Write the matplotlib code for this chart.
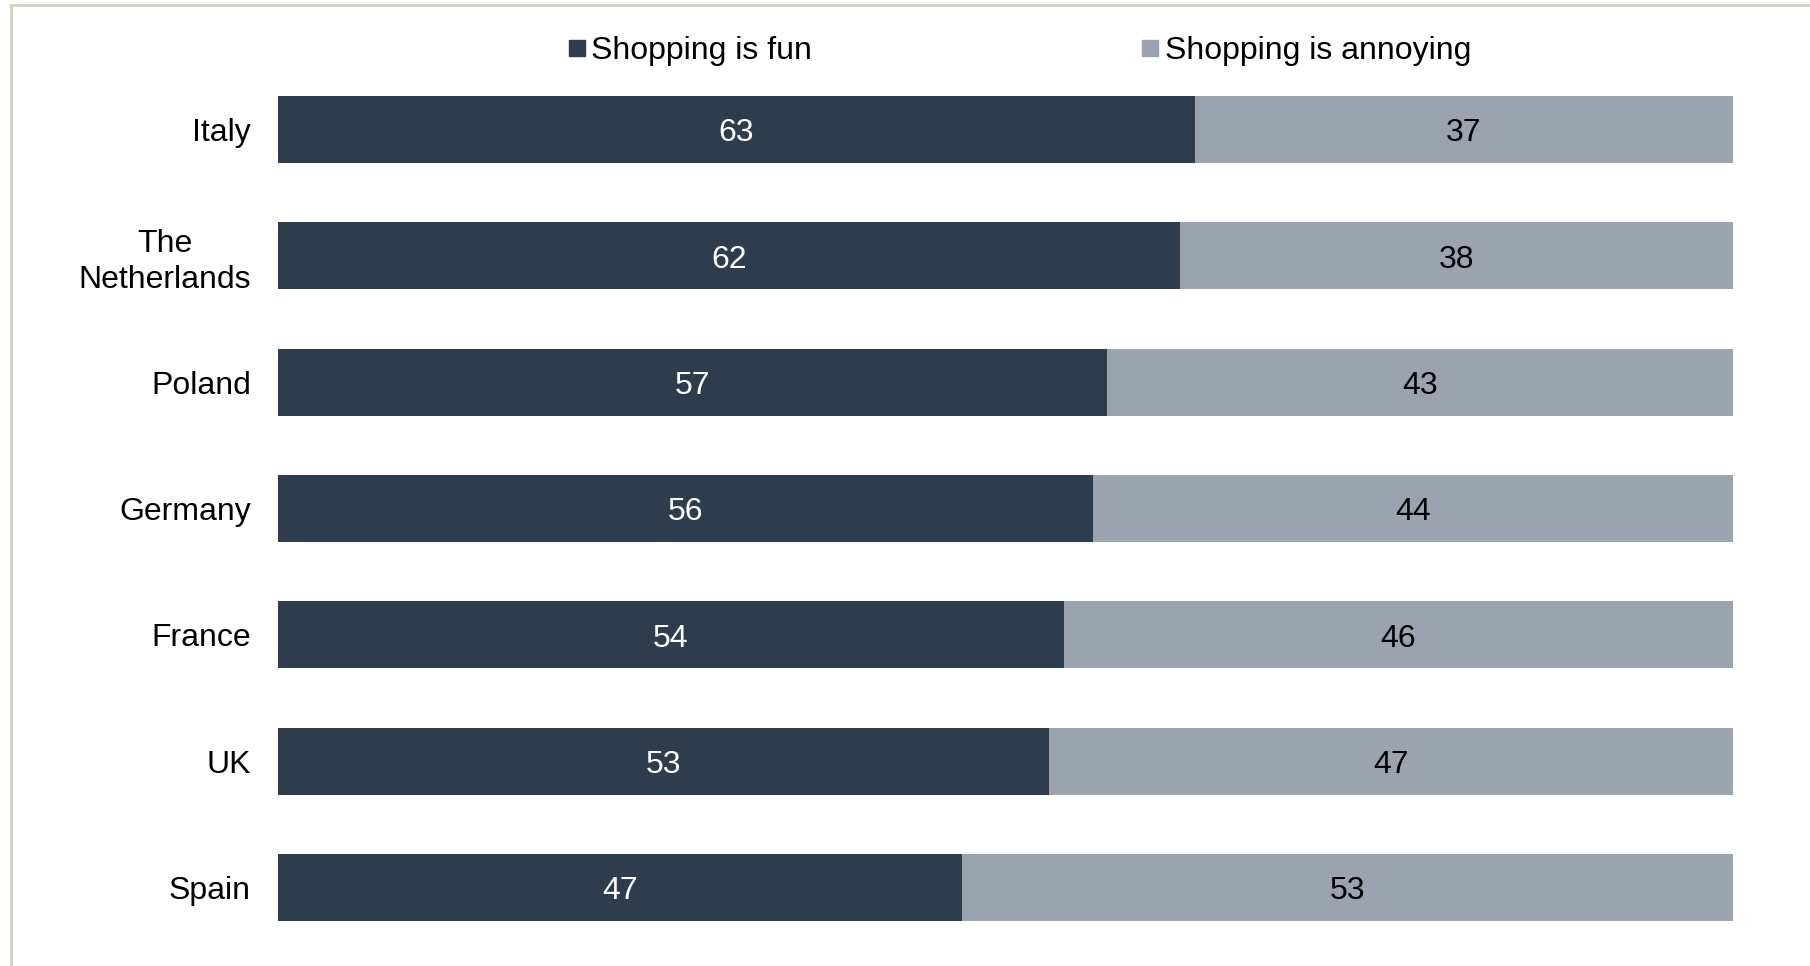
import matplotlib.pyplot as plt
from matplotlib.lines import Line2D

plt.rcParams['font.family'] = ['Liberation Sans', 'DejaVu Sans']

countries = ["Italy", "The\nNetherlands", "Poland", "Germany", "France", "UK", "Spain"]
fun = [63, 62, 57, 56, 54, 53, 47]
annoying = [37, 38, 43, 44, 46, 47, 53]

dark = "#2e3d4d"
light = "#9ba4ae"

fig = plt.figure(figsize=(18.1, 9.66), dpi=100)
ax = fig.add_axes([0.1536, 0.0159, 0.8039, 0.9154])

y = range(len(countries))
ax.barh(y, fun, height=0.53, color=dark)
ax.barh(y, annoying, left=fun, height=0.53, color=light)

# value labels centred in each segment
for i in y:
    ax.text(fun[i] / 2, i + 0.03, str(fun[i]), ha="center", va="center",
            color="white", fontsize=23)
    ax.text(fun[i] + annoying[i] / 2, i + 0.03, str(annoying[i]), ha="center",
            va="center", color="black", fontsize=23)

ax.set_xlim(0, 100)
ax.set_ylim(6.5, -0.5)
ax.set_yticks(list(y))
ax.set_yticklabels(countries, fontsize=23, linespacing=1.25)
for lbl in ax.get_yticklabels():
    lbl.set_multialignment("center")
ax.tick_params(axis="y", length=0, pad=19.5)
ax.set_xticks([])
for s in ax.spines.values():
    s.set_visible(False)

handles = [Line2D([], [], marker="s", linestyle="none", markersize=11,
                  color=dark, label="Shopping is fun"),
           Line2D([], [], marker="s", linestyle="none", markersize=11,
                  color=light, label="Shopping is annoying")]
fig.legend(handles=handles, loc="center", bbox_to_anchor=(0.563, 0.947),
           ncol=2, frameon=False, fontsize=23, handlelength=0.6,
           handletextpad=0.15, columnspacing=10.3)

# frame lines on top and left edge
fig.add_artist(Line2D([0.0063, 1], [0.9953, 0.9953], color="#d6cfc4", lw=2))
fig.add_artist(Line2D([0.0063, 0.0063], [0, 0.9953], color="#d6cfc4", lw=2))

fig.savefig("out.png", dpi=100)
